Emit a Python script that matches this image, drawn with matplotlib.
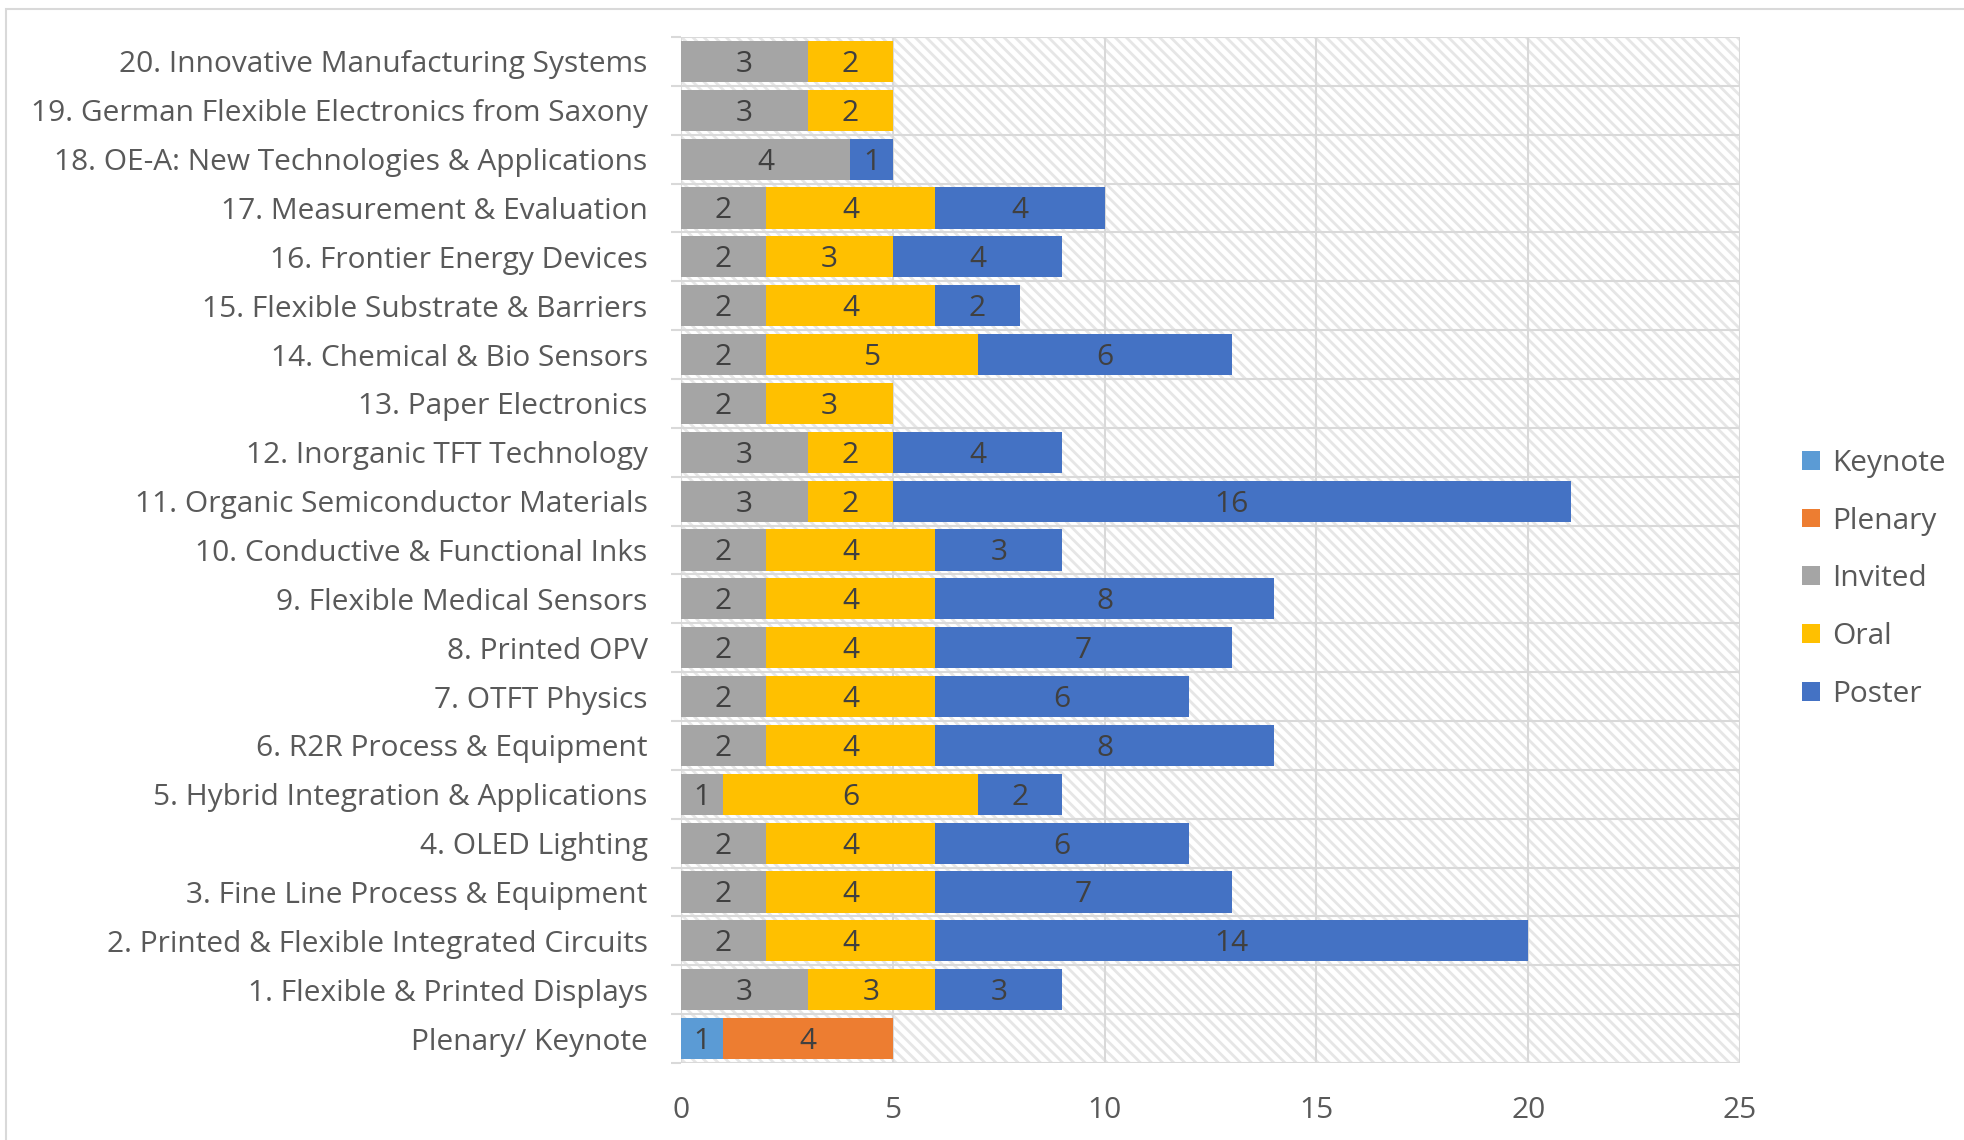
import matplotlib
matplotlib.use("Agg")
import matplotlib.pyplot as plt
from matplotlib.patches import Rectangle, Patch
import numpy as np

categories = [
    "Plenary/ Keynote",
    "1. Flexible & Printed Displays",
    "2. Printed & Flexible Integrated Circuits",
    "3. Fine Line Process & Equipment",
    "4. OLED Lighting",
    "5. Hybrid Integration & Applications",
    "6. R2R Process & Equipment",
    "7. OTFT Physics",
    "8. Printed OPV",
    "9. Flexible Medical Sensors",
    "10. Conductive & Functional Inks",
    "11. Organic Semiconductor Materials",
    "12. Inorganic TFT Technology",
    "13. Paper Electronics",
    "14. Chemical & Bio Sensors",
    "15. Flexible Substrate & Barriers",
    "16. Frontier Energy Devices",
    "17. Measurement & Evaluation",
    "18. OE-A: New Technologies & Applications",
    "19. German Flexible Electronics from Saxony",
    "20. Innovative Manufacturing Systems",
]
keynote = [1, 0, 0, 0, 0, 0, 0, 0, 0, 0, 0, 0, 0, 0, 0, 0, 0, 0, 0, 0, 0]
plenary = [4, 0, 0, 0, 0, 0, 0, 0, 0, 0, 0, 0, 0, 0, 0, 0, 0, 0, 0, 0, 0]
invited = [0, 3, 2, 2, 2, 1, 2, 2, 2, 2, 2, 3, 3, 2, 2, 2, 2, 2, 4, 3, 3]
oral    = [0, 3, 4, 4, 4, 6, 4, 4, 4, 4, 4, 2, 2, 3, 5, 4, 3, 4, 0, 2, 2]
poster  = [0, 3, 14, 7, 6, 2, 8, 6, 7, 8, 3, 16, 4, 0, 6, 2, 4, 4, 1, 0, 0]
series_names = ["Keynote", "Plenary", "Invited", "Oral", "Poster"]
x_ticks = [0, 5, 10, 15, 20, 25]

colors = ["#5B9BD5", "#ED7D31", "#A5A5A5", "#FFC000", "#4472C4"]
text_color = "#595959"
grid_color = "#D9D9D9"
FONT = ["Open Sans", "DejaVu Sans"]
FS = 21.5

plt.rcParams["font.family"] = FONT
plt.rcParams["hatch.linewidth"] = 2.0

W, H = 1964, 1140
fig = plt.figure(figsize=(W / 100, H / 100), dpi=100)
ax = fig.add_axes([681 / W, 1 - 1063 / H, (1740 - 681) / W, (1063 - 37) / H])

# figure border
fig.patches.append(Rectangle((6 / W, -0.05), 1.2, 1 - 9 / H + 0.05, transform=fig.transFigure,
                             fill=False, edgecolor="#D9D9D9", linewidth=1.5, zorder=0))

# hatched plot background
ax.add_patch(Rectangle((0, 0), 1, 1, transform=ax.transAxes, facecolor="white",
                       edgecolor="#E6E6E6", hatch="\\\\\\", linewidth=0, zorder=0))

y = np.arange(len(categories))
data = [keynote, plenary, invited, oral, poster]
left = np.zeros(len(categories))
bar_h = 0.84
for name, vals, c in zip(series_names, data, colors):
    vals = np.array(vals, dtype=float)
    ax.barh(y, vals, left=left, height=bar_h, color=c, label=name, zorder=3)
    for yi, (l, v) in enumerate(zip(left, vals)):
        if v > 0:
            ax.text(l + v / 2, yi - 0.06, f"{int(v)}", ha="center", va="center",
                    fontsize=FS, color="#404040", zorder=4)
    left += vals

ax.set_xlim(0, 25)
ax.set_ylim(-0.5, len(categories) - 0.5)
ax.set_xticks(x_ticks)
ax.set_xticklabels([str(t) for t in x_ticks])
ax.set_yticks(y)
ax.set_yticklabels(categories)
ax.tick_params(axis="y", length=0, pad=24, labelsize=FS, labelcolor=text_color)
ax.tick_params(axis="x", length=0, pad=24, labelsize=FS, labelcolor=text_color)

# row boundaries + vertical grid
ax.set_yticks(np.arange(-0.5, len(categories)), minor=True)
ax.tick_params(axis="y", which="minor", length=7, width=1.5, color=grid_color)
ax.grid(axis="y", which="minor", color=grid_color, linewidth=1.5, zorder=1)
ax.grid(axis="x", which="major", color=grid_color, linewidth=1.5, zorder=1)
ax.set_axisbelow(True)
for s in ax.spines.values():
    s.set_visible(False)

handles = [Patch(facecolor=c, edgecolor="none") for c in colors]
fig.legend(handles, series_names, loc="center left", bbox_to_anchor=(1775 / W, 1 - 579 / H),
           frameon=False, fontsize=FS, labelcolor=text_color, handlelength=0.6, handleheight=0.6,
           handletextpad=0.4, labelspacing=0.97)

fig.savefig("out.png", dpi=100)
